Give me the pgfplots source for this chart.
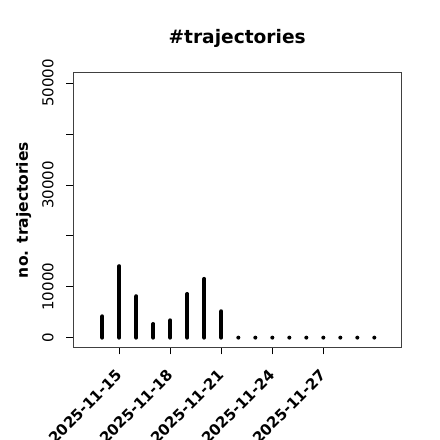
\documentclass[border=0pt]{standalone}
\usepackage{fontspec}
\setmainfont{DejaVu Sans}
\usepackage{pgfplots}
\pgfplotsset{compat=1.18}
\begin{document}
\begin{tikzpicture}
\path[use as bounding box] (0bp,0bp) rectangle (440bp,440bp);
\begin{axis}[
  at={(73.3bp,92.7bp)}, anchor=south west,
  width=327.7bp, height=274.6bp, scale only axis,
  xmin=-2.71, xmax=16.57, ymin=-1900, ymax=52050,
  axis line style={line width=0.8bp, black!75},
  tick align=outside, major tick length=7bp,
  tick style={black, line width=0.8bp},
  xtick pos=bottom, ytick pos=left,
  xtick={0,3,6,9,12},
  xticklabels={2025-11-15,2025-11-18,2025-11-21,2025-11-24,2025-11-27},
  xticklabel style={font=\bfseries\fontsize{15bp}{18bp}\selectfont, yshift=-18.3bp, rotate=45, anchor=east, inner sep=0pt},
  ytick={0,10000,20000,30000,40000,50000},
  yticklabels={0,10000,,30000,,50000},
  yticklabel style={font=\fontsize{15bp}{18bp}\selectfont, xshift=-13bp, rotate=90, anchor=base, inner sep=0pt},
  scaled y ticks=false,
  title={\#trajectories},
  every axis title/.style={at={(0.5,1)}, anchor=base, yshift=29bp, font=\bfseries\fontsize{18.6bp}{22bp}\selectfont},
  ylabel={no. trajectories},
  every axis y label/.style={at={(0,0.5)}, xshift=-45.3bp, rotate=90, anchor=base, font=\bfseries\fontsize{15.5bp}{18bp}\selectfont},
]
\addplot[ycomb, black, line width=4bp, line cap=round] coordinates {
(-1,4190) (0,14040) (1,8130) (2,2680) (3,3400) (4,8580) (5,11540) (6,5180)
(7,0) (8,0) (9,0) (10,0) (11,0) (12,0) (13,0) (14,0) (15,0)
};
\end{axis}
\end{tikzpicture}
\end{document}
